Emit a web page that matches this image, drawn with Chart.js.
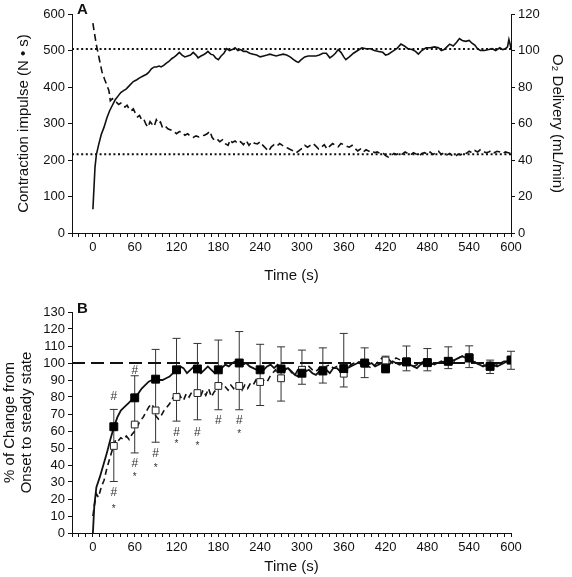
<!DOCTYPE html>
<html>
<head>
<meta charset="utf-8">
<script src="https://cdn.jsdelivr.net/npm/chart.js@4.4.0/dist/chart.umd.min.js"></script>
<style>
    body { margin: 0; background: #fff; }
    #chartA { position: absolute; left: 0; top: 0; }
    #chartB { position: absolute; left: 0; top: 290px; }
</style>
</head>
<body>
<canvas id="chartA" width="572" height="290"></canvas>
<canvas id="chartB" width="572" height="287"></canvas>
<script>
// ---------- Panel A ----------
let timeO2 = [0, 3, 5, 8, 12, 16, 20, 24, 28, 32, 36, 40, 44, 48, 53, 58, 63, 67, 72, 77, 80, 84, 88, 91, 95, 98, 102, 105, 109, 113, 117, 120, 124, 128, 132, 136, 140, 144, 148, 151, 155, 158, 162, 165, 169, 173, 176, 180, 184, 188, 192, 196, 200, 204, 208, 212, 216, 220, 225, 230, 235, 240, 245, 250, 254, 258, 263, 268, 273, 278, 283, 288, 292, 295, 299, 304, 309, 314, 320, 325, 330, 335, 340, 344, 348, 352, 356, 360, 363, 368, 374, 380, 386, 392, 398, 404, 410, 416, 420, 424, 430, 436, 442, 447, 452, 458, 463, 467, 472, 478, 484, 490, 496, 500, 504, 508, 512, 517, 522, 526, 530, 535, 540, 544, 548, 552, 556, 562, 568, 573, 578, 584, 588, 592, 595, 597, 599, 600];
let o2Delivery = [13, 36, 43, 48, 54, 58, 63, 67, 70, 73, 75, 77, 78, 79, 81, 83, 84, 85, 86, 87, 88, 90, 91, 91, 91.5, 91, 92, 93, 94, 95.5, 96.5, 97.5, 99, 97.5, 96.5, 97, 97.5, 99, 97.5, 96, 97, 97.5, 98.5, 99.5, 98, 97.5, 96, 95, 97, 98.5, 101, 100, 100.5, 101.5, 100, 100.5, 99.5, 99.5, 98.5, 98, 97.5, 96.5, 97, 97.5, 98, 97.5, 97, 97.5, 98, 97.5, 96.5, 95, 94, 93.5, 95, 96.5, 97, 97, 97, 97.5, 98.5, 98.5, 96, 97, 98.5, 100.5, 99, 96.5, 95, 96.5, 98.5, 100, 101.5, 101, 101, 100, 99.5, 99, 97.5, 98, 99.5, 101, 103.5, 102.5, 101, 100.5, 99.5, 98, 100, 101.5, 101.5, 102, 101.5, 100, 100.5, 102, 103.5, 102.5, 104.5, 106.5, 105.5, 105, 105.5, 104, 103, 101, 100, 100, 100.5, 101, 100, 101.5, 100.5, 101, 102, 106, 103, 101];

let timeImpulse = [0, 2, 5, 9, 13, 17, 20, 23, 25, 28, 31, 34, 37, 40, 43, 46, 49, 52, 55, 58, 61, 64, 67, 70, 73, 76, 79, 82, 85, 88, 91, 94, 97, 100, 104, 108, 112, 116, 120, 124, 128, 132, 136, 140, 144, 148, 152, 156, 160, 164, 168, 171, 174, 178, 182, 186, 190, 194, 197, 200, 204, 208, 212, 216, 220, 224, 228, 232, 236, 240, 244, 248, 252, 256, 260, 264, 268, 272, 276, 280, 284, 288, 292, 296, 300, 304, 308, 312, 316, 320, 324, 328, 332, 336, 340, 344, 348, 352, 356, 360, 364, 368, 372, 376, 380, 384, 388, 392, 396, 400, 404, 408, 412, 416, 420, 424, 428, 432, 436, 440, 444, 448, 452, 456, 460, 464, 468, 472, 476, 480, 484, 488, 492, 496, 500, 504, 508, 512, 516, 520, 524, 528, 532, 536, 540, 544, 548, 552, 556, 560, 564, 568, 572, 576, 580, 584, 588, 592, 596, 600];
let impulse = [575, 550, 515, 478, 442, 420, 405, 390, 362, 368, 362, 358, 352, 356, 348, 345, 350, 340, 335, 340, 328, 318, 322, 310, 312, 298, 290, 305, 298, 292, 310, 300, 304, 288, 292, 285, 282, 278, 272, 278, 276, 268, 272, 265, 262, 266, 263, 266, 268, 272, 279, 262, 255, 258, 250, 255, 245, 240, 255, 248, 252, 245, 250, 242, 253, 240, 250, 246, 244, 250, 240, 232, 224, 236, 242, 238, 245, 240, 236, 232, 228, 225, 220, 226, 232, 240, 235, 240, 245, 238, 230, 235, 242, 230, 238, 245, 240, 236, 245, 242, 238, 235, 240, 232, 225, 230, 222, 228, 224, 226, 220, 222, 218, 220, 212, 208, 212, 218, 215, 220, 216, 222, 218, 214, 220, 216, 211, 218, 220, 216, 222, 215, 220, 224, 215, 220, 214, 218, 212, 210, 216, 214, 220, 218, 224, 220, 226, 222, 228, 224, 220, 222, 226, 220, 224, 222, 218, 222, 220, 218];

let steadyLevels = [504, 216];
let xRangeA = [-30, 600];

// ---------- Panel B ----------
let timeB = [0, 2, 5, 10, 15, 20, 25, 30, 35, 40, 45, 50, 55, 60, 65, 70, 75, 80, 85, 90, 95, 100, 105, 110, 115, 120, 125, 130, 135, 140, 145, 150, 155, 160, 165, 170, 175, 180, 185, 190, 195, 200, 205, 210, 215, 220, 225, 230, 235, 240, 245, 250, 255, 260, 265, 270, 275, 280, 285, 290, 295, 300, 305, 310, 315, 320, 325, 330, 335, 340, 345, 350, 355, 360, 365, 370, 375, 380, 385, 390, 395, 400, 405, 410, 415, 420, 425, 430, 435, 440, 445, 450, 455, 460, 465, 470, 475, 480, 485, 490, 495, 500, 505, 510, 515, 520, 525, 530, 535, 540, 545, 550, 555, 560, 565, 570, 575, 580, 585, 590, 595, 600];
let changeSolid = [0, 16, 27, 33, 40, 47, 55, 62, 68, 72, 74, 76, 78, 80, 82, 85, 87, 89, 90, 91, 90, 90, 91, 92, 94, 96, 98, 97, 94, 96, 98, 96, 94, 96, 98, 96, 94, 96, 97, 99, 98, 100, 101, 100, 99, 100, 98, 97, 96, 97, 96, 98, 99, 97, 99, 97, 96, 97, 95, 93, 92, 94, 95, 96, 94, 93, 95, 95, 96, 94, 97, 97, 95, 96, 97, 98, 99, 100, 101, 100, 99, 100, 98, 99, 100, 97, 99, 101, 100, 99, 100, 100, 99, 98, 97, 99, 100, 100, 99, 100, 100, 101, 100, 101, 101, 102, 103, 104, 103, 103, 101, 100, 99, 98, 99, 98, 99, 98, 99, 100, 101, 101];

let timeDashedB = [0, 2, 5, 8, 12, 16, 20, 25, 30, 33, 36, 40, 44, 48, 52, 56, 60, 64, 68, 72, 76, 80, 84, 87, 90, 94, 98, 102, 106, 110, 114, 118, 122, 126, 130, 134, 138, 142, 146, 150, 154, 158, 162, 166, 170, 174, 178, 182, 186, 190, 194, 198, 202, 206, 210, 214, 218, 222, 226, 230, 234, 238, 242, 246, 250, 254, 258, 262, 266, 270, 274, 278, 282, 286, 290, 294, 298, 302, 306, 310, 315, 320, 325, 330, 335, 340, 345, 350, 355, 360, 365, 370, 375, 380, 385, 390, 395, 400, 405, 410, 415, 420, 425, 430, 435, 440, 445, 450, 455, 460, 465, 470, 475, 480, 485, 490, 495, 500, 505, 510, 515, 520, 525, 530, 535, 540, 545, 550, 555, 560, 565, 570, 575, 580, 585, 590, 595, 600];
let changeDashed = [10, 16, 23, 21, 27, 31, 38, 45, 52, 55, 54, 56, 55, 57, 55, 58, 60, 63, 66, 68, 71, 74, 76, 74, 69, 67, 69, 72, 74, 76, 79, 81, 83, 80, 78, 82, 80, 83, 84, 82, 80, 84, 81, 85, 80, 83, 85, 87, 88, 86, 84, 87, 85, 88, 87, 84, 87, 85, 88, 87, 90, 88, 89, 90, 89, 92, 94, 96, 93, 91, 94, 98, 96, 94, 93, 96, 97, 96, 99, 98, 96, 95, 97, 96, 98, 99, 97, 98, 95, 92, 96, 99, 100, 101, 99, 100, 98, 97, 99, 101, 103, 101, 102, 100, 103, 102, 101, 100, 99, 98, 99, 100, 101, 100, 100, 99, 100, 100, 101, 101, 102, 101, 103, 104, 103, 104, 102, 100, 99, 99, 98, 99, 98, 99, 100, 101, 101, 102];

let sampleTimes = [30, 60, 90, 120, 150, 180, 210, 240, 270, 300, 330, 360, 390, 420, 450, 480, 510, 540, 570, 600];
let filledMeans = [62.5, 79.5, 90.5, 96, 96.5, 96, 100, 96, 96.5, 94, 95.3, 96.7, 100, 96.7, 100.6, 100.2, 101, 102.9, 98, 101.7];
let filledUpper = [72.7, 92.5, 108, 114.5, 111.5, 113.5, 118.5, 111, 109.5, 107.6, 108.9, 117.4, 108.9, 104, 110, 108.5, 109.5, 110.1, 101.7, 106.9];
let openMeans = [51.2, 63.8, 72.1, 80, 82.3, 86.5, 86.5, 88.8, 91, 96, 96, 93.7, 99.6, 101.5, 101, 100.6, 101, 103.5, 98.6, 102];
let openLower = [30.3, 47.1, 53.4, 65.8, 66.6, 72.5, 72.5, 75, 77.6, 87.5, 88.2, 85.9, 91.4, 94.2, 95.4, 95.4, 96.7, 97.3, 93.8, 96.3];

let hashTimes = [30, 60, 30, 60, 90, 120, 150, 180, 210];
let hashValues = [80, 95.7, 23.5, 40.6, 46.5, 59.3, 59.3, 66.2, 66.2];
let starTimes = [30, 60, 90, 120, 150, 210];
let starValues = [15.4, 34.1, 39.2, 53.4, 52.4, 59.3];
let xRangeB = [-30, 600];

let fontFamily = '"Liberation Sans", Arial, sans-serif';
let ink = '#111';

function toPoints(xs, ys) {
    return xs.map(function(x, i) { return { x: x, y: ys[i] }; });
}

function timeTickLabel(v) {
    return (v >= 0 && v % 60 === 0) ? String(v) : '';
}

function xAxis(range, height, titleBottom) {
    return {
        type: 'linear',
        min: range[0],
        max: range[1],
        afterFit: function(scale) { scale.height = height; },
        border: { display: true, color: ink, width: 1 },
        grid: { display: true, drawOnChartArea: false, drawTicks: true, tickLength: 4, color: ink },
        ticks: {
            stepSize: 10,
            autoSkip: false,
            maxTicksLimit: 200,
            maxRotation: 0,
            padding: 3,
            color: ink,
            font: { family: fontFamily, size: 13 },
            callback: timeTickLabel
        },
        title: { display: true, text: 'Time (s)', color: ink, font: { family: fontFamily, size: 15 }, padding: { top: 0, bottom: titleBottom } }
    };
}

function panelLetter(letter, yPos) {
    return {
        id: 'letter' + letter,
        afterDraw: function(chart) {
            let ctx = chart.ctx;
            ctx.save();
            ctx.font = 'bold 15px ' + fontFamily;
            ctx.fillStyle = ink;
            ctx.textBaseline = 'middle';
            ctx.fillText(letter, chart.chartArea.left + 5, yPos);
            ctx.restore();
        }
    };
}

// error bars: filled mean + SD upward, open mean - SD downward, one stroke
let errorBars = {
    id: 'errorBars',
    beforeDatasetsDraw: function(chart) {
        let ctx = chart.ctx;
        let x = chart.scales.x, y = chart.scales.y;
        ctx.save();
        ctx.strokeStyle = '#333';
        ctx.lineWidth = 1;
        for (let i in sampleTimes) {
            let px = x.getPixelForValue(sampleTimes[i]);
            let top = y.getPixelForValue(filledUpper[i]);
            let bot = y.getPixelForValue(openLower[i]);
            ctx.beginPath();
            ctx.moveTo(px, top); ctx.lineTo(px, bot);
            ctx.moveTo(px - 4, top); ctx.lineTo(px + 4, top);
            ctx.moveTo(px - 4, bot); ctx.lineTo(px + 4, bot);
            ctx.stroke();
        }
        ctx.restore();
    }
};

let markers = {
    id: 'markers',
    afterDatasetsDraw: function(chart) {
        let ctx = chart.ctx;
        let x = chart.scales.x, y = chart.scales.y;
        ctx.save();
        ctx.fillStyle = '#333';
        ctx.textAlign = 'center';
        ctx.textBaseline = 'middle';
        ctx.font = '12px ' + fontFamily;
        for (let i in hashTimes) {
            ctx.fillText('#', x.getPixelForValue(hashTimes[i]), y.getPixelForValue(hashValues[i]));
        }
        ctx.font = '10px ' + fontFamily;
        for (let i in starTimes) {
            ctx.fillText('*', x.getPixelForValue(starTimes[i]), y.getPixelForValue(starValues[i]) + 2);
        }
        ctx.restore();
    }
};

function showPanelA() {
    let data = {
        datasets: [
            {
                label: 'Contraction impulse',
                data: toPoints(timeImpulse, impulse),
                yAxisID: 'y',
                borderColor: ink,
                borderWidth: 1.6,
                borderDash: [7, 4],
                pointRadius: 0
            },
            {
                label: 'O2 delivery',
                data: toPoints(timeO2, o2Delivery),
                yAxisID: 'y2',
                borderColor: ink,
                borderWidth: 1.6,
                pointRadius: 0
            },
            {
                label: 'steady high',
                data: toPoints(xRangeA, [steadyLevels[0], steadyLevels[0]]),
                yAxisID: 'y',
                borderColor: ink,
                borderWidth: 2,
                borderDash: [2, 2.6],
                pointRadius: 0
            },
            {
                label: 'steady low',
                data: toPoints(xRangeA, [steadyLevels[1], steadyLevels[1]]),
                yAxisID: 'y',
                borderColor: ink,
                borderWidth: 2,
                borderDash: [2, 2.6],
                pointRadius: 0
            }
        ]
    };

    new Chart(document.getElementById('chartA'), {
        type: 'line',
        data: data,
        plugins: [panelLetter('A', 10)],
        options: {
            responsive: false,
            animation: false,
            devicePixelRatio: 1,
            layout: { padding: { top: 14, left: 0, right: 0, bottom: 0 } },
            plugins: { legend: { display: false }, tooltip: { enabled: false } },
            elements: { line: { tension: 0, fill: false } },
            scales: {
                x: xAxis(xRangeA, 57, 5),
                y: {
                    position: 'left',
                    min: 0,
                    max: 600,
                    afterFit: function(scale) { scale.width = 72; },
                    border: { display: true, color: ink, width: 1 },
                    grid: { display: true, drawOnChartArea: false, tickLength: 4, color: ink },
                    ticks: { stepSize: 100, autoSkip: false, padding: 3, color: ink, font: { family: fontFamily, size: 13 } },
                    title: { display: true, text: 'Contraction impulse (N • s)', color: ink, font: { family: fontFamily, size: 15 }, padding: { top: 15, bottom: 0 } }
                },
                y2: {
                    position: 'right',
                    min: 0,
                    max: 120,
                    afterFit: function(scale) { scale.width = 61; },
                    border: { display: true, color: ink, width: 1 },
                    grid: { display: true, drawOnChartArea: false, tickLength: 4, color: ink },
                    ticks: { stepSize: 20, autoSkip: false, padding: 3, color: ink, font: { family: fontFamily, size: 13 } },
                    title: { display: true, text: 'O₂ Delivery (mL/min)', color: ink, font: { family: fontFamily, size: 15 }, padding: { top: 6, bottom: 0 } }
                }
            }
        }
    });
}

function showPanelB() {
    let data = {
        datasets: [
            {
                label: 'filled',
                data: toPoints(sampleTimes, filledMeans),
                showLine: false,
                pointStyle: 'rect',
                pointRadius: 5.6,
                pointBackgroundColor: '#000',
                pointBorderColor: '#000',
                pointBorderWidth: 1
            },
            {
                label: 'open',
                data: toPoints(sampleTimes, openMeans),
                showLine: false,
                pointStyle: 'rect',
                pointRadius: 4.8,
                pointBackgroundColor: '#fff',
                pointBorderColor: '#222',
                pointBorderWidth: 1
            },
            {
                label: 'solid',
                data: toPoints(timeB, changeSolid),
                borderColor: ink,
                borderWidth: 1.8,
                pointRadius: 0
            },
            {
                label: 'dashed',
                data: toPoints(timeDashedB, changeDashed),
                borderColor: ink,
                borderWidth: 1.6,
                borderDash: [6, 4],
                pointRadius: 0
            },
            {
                label: 'steady state',
                data: toPoints(xRangeB, [100, 100]),
                borderColor: ink,
                borderWidth: 1.8,
                borderDash: [13, 6],
                pointRadius: 0
            }
        ]
    };

    new Chart(document.getElementById('chartB'), {
        type: 'line',
        data: data,
        plugins: [errorBars, markers, panelLetter('B', 19)],
        options: {
            responsive: false,
            animation: false,
            devicePixelRatio: 1,
            layout: { padding: { top: 22, left: 0, right: 61, bottom: 0 } },
            plugins: { legend: { display: false }, tooltip: { enabled: false } },
            elements: { line: { tension: 0, fill: false } },
            scales: {
                x: xAxis(xRangeB, 44, 1),
                y: {
                    position: 'left',
                    min: 0,
                    max: 130,
                    afterFit: function(scale) { scale.width = 72; },
                    border: { display: true, color: ink, width: 1 },
                    grid: { display: true, drawOnChartArea: false, tickLength: 4, color: ink },
                    ticks: { stepSize: 10, autoSkip: false, padding: 3, color: ink, font: { family: fontFamily, size: 13 } },
                    title: { display: true, text: ['% of Change from', 'Onset to steady state'], color: ink, font: { family: fontFamily, size: 15, lineHeight: 1.1 }, padding: { top: 2, bottom: 0 } }
                }
            }
        }
    });
}

showPanelA();
showPanelB();
</script>
</body>
</html>
